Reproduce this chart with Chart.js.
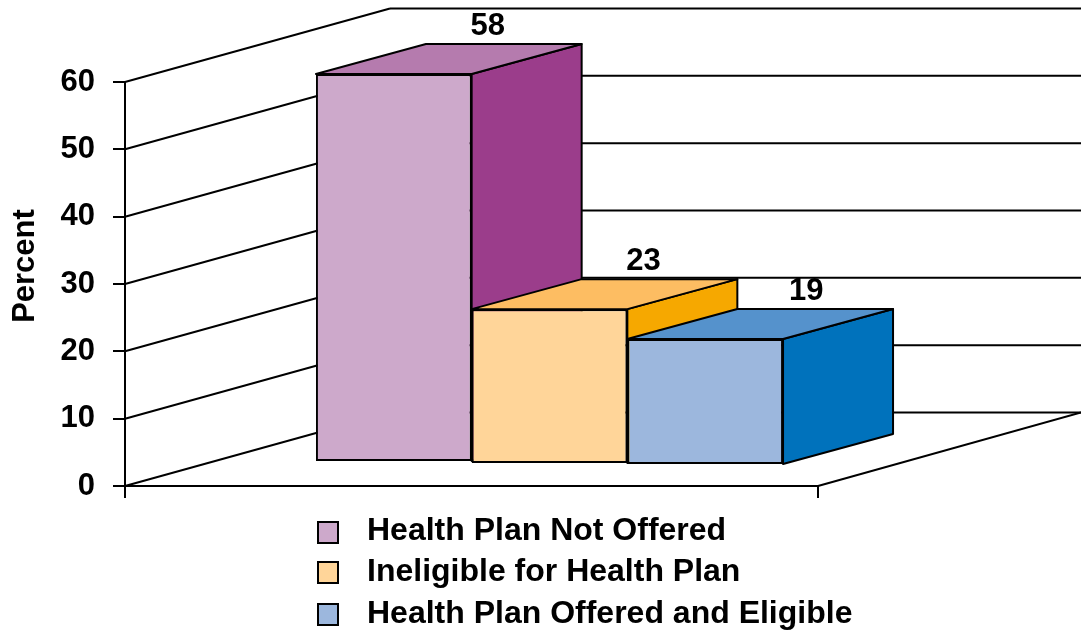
<!DOCTYPE html>
<html>
<head>
<meta charset="utf-8">
<title>Health plan status</title>
<script src="https://cdn.jsdelivr.net/npm/chart.js@4"></script>
<style>
    html, body { margin: 0; padding: 0; background: #fff; }
    canvas { display: block; }
</style>
</head>
<body>
<canvas id="planChart" width="1081" height="631"></canvas>
<script>
const categories = [''];
const seriesNames = ['Health Plan Not Offered', 'Ineligible for Health Plan', 'Health Plan Offered and Eligible'];
const notOffered = [58];
const ineligible = [23];
const offeredEligible = [19];
const yTicks = [0, 10, 20, 30, 40, 50, 60];
const axisTitle = 'Percent';

const frontColors = ['#CDA9CB', '#FFD599', '#9CB7DD'];
const topColors = ['#B57BAE', '#FDBD62', '#5592CC'];
const sideColors = ['#9B3D8B', '#F6A800', '#0072BC'];

const fontName = '"Liberation Sans", Arial, sans-serif';

// depth of the box the axes live in, and of each bar
const wall = { dx: 265, dy: -73.5 };
const barDepth = { dx: 110, dy: -30 };
// bars stand in the middle of the floor
const barShiftX = 78;
const topLift = [21.5, 22, 19];
const baseLift = [24, 22, 21];
const labelNudge = [0, 0, 7];

function strokeLine(ctx, x1, y1, x2, y2) {
    ctx.beginPath();
    ctx.moveTo(x1, y1);
    ctx.lineTo(x2, y2);
    ctx.stroke();
}

function fillFace(ctx, points, color) {
    ctx.beginPath();
    points.forEach(function(p, i) {
        if (i === 0) ctx.moveTo(p[0], p[1]);
        else ctx.lineTo(p[0], p[1]);
    });
    ctx.closePath();
    ctx.fillStyle = color;
    ctx.fill();
    ctx.stroke();
}

// where a bar's front face really ends up once it is moved onto the floor
function frontBox(chart, index) {
    const bar = chart.getDatasetMeta(index).data[0];
    return {
        left: bar.x - bar.width / 2 + barShiftX,
        right: bar.x + bar.width / 2 + barShiftX,
        center: bar.x + barShiftX,
        top: bar.y - topLift[index],
        bottom: bar.base - baseLift[index],
        rawTop: bar.y,
        rawBottom: bar.base
    };
}

function drawBox(chart, i) {
    const ctx = chart.ctx;
    const b = frontBox(chart, i);
    ctx.save();
    ctx.strokeStyle = '#000';
    ctx.lineWidth = 2;
    ctx.lineJoin = 'round';
    fillFace(ctx, [
        [b.right, b.top],
        [b.right + barDepth.dx, b.top + barDepth.dy],
        [b.right + barDepth.dx, b.bottom + barDepth.dy],
        [b.right, b.bottom]
    ], sideColors[i]);
    fillFace(ctx, [
        [b.left, b.top],
        [b.left + barDepth.dx, b.top + barDepth.dy],
        [b.right + barDepth.dx, b.top + barDepth.dy],
        [b.right, b.top]
    ], topColors[i]);
    // push the library's own bar onto the floor plane
    const squeeze = (b.bottom - b.top) / (b.rawBottom - b.rawTop);
    ctx.transform(1, 0, 0, squeeze, barShiftX, b.top - b.rawTop * squeeze);
    chart.getDatasetMeta(i).controller.draw();
    ctx.restore();
}

const box3d = {
    id: 'box3d',
    beforeDatasetsDraw: function(chart) {
        const ctx = chart.ctx;
        const y = chart.scales.y;
        const x = chart.scales.x;
        const backRight = chart.width;
        const zero = y.getPixelForValue(0);
        ctx.save();
        ctx.strokeStyle = '#000';
        ctx.lineWidth = 2;
        yTicks.forEach(function(t) {
            const py = y.getPixelForValue(t);
            strokeLine(ctx, x.left, py, x.left + wall.dx, py + wall.dy);
            strokeLine(ctx, x.left + wall.dx, py + wall.dy, backRight, py + wall.dy);
        });
        strokeLine(ctx, x.left, zero, x.right, zero);
        strokeLine(ctx, x.right, zero, backRight, zero + wall.dy);
        strokeLine(ctx, x.left, zero, x.left, zero + 12);
        strokeLine(ctx, x.right, zero, x.right, zero + 12);
        ctx.restore();
    },
    // Chart.js paints the first dataset last; these boxes need the opposite,
    // so each later box covers the side of the one before
    beforeDatasetDraw: function() {
        return false;
    },
    afterDatasetsDraw: function(chart) {
        chart.data.datasets.forEach(function(ds, i) {
            drawBox(chart, i);
        });
    },
    afterDraw: function(chart) {
        const ctx = chart.ctx;
        ctx.save();
        ctx.fillStyle = '#000';
        ctx.font = 'bold 31px ' + fontName;
        ctx.textAlign = 'center';
        ctx.textBaseline = 'middle';
        chart.data.datasets.forEach(function(ds, i) {
            const b = frontBox(chart, i);
            ctx.fillText(String(ds.data[0]), b.center + 94 + labelNudge[i], b.top - 48);
        });

        // axis title, turned to read upwards
        ctx.save();
        ctx.translate(25, 266);
        ctx.rotate(-Math.PI / 2);
        ctx.fillText(axisTitle, 0, 0);
        ctx.restore();

        // stacked legend under the floor
        const swatchTops = [522, 562, 604];
        const textRows = [531, 572, 614];
        ctx.font = 'bold 32px ' + fontName;
        ctx.textAlign = 'left';
        ctx.lineWidth = 2;
        ctx.strokeStyle = '#000';
        chart.data.datasets.forEach(function(ds, i) {
            ctx.fillStyle = ds.backgroundColor;
            ctx.fillRect(318, swatchTops[i], 20, 21);
            ctx.strokeRect(318, swatchTops[i], 20, 21);
            ctx.fillStyle = '#000';
            ctx.fillText(ds.label, 367, textRows[i]);
        });
        ctx.restore();
    }
};

const seriesValues = [notOffered, ineligible, offeredEligible];

document.addEventListener('DOMContentLoaded', function() {
    const ctx = document.getElementById('planChart').getContext('2d');
    new Chart(ctx, {
        type: 'bar',
        data: {
            labels: categories,
            datasets: seriesNames.map(function(name, i) {
                return {
                    label: name,
                    data: seriesValues[i],
                    backgroundColor: frontColors[i],
                    borderColor: '#000',
                    borderWidth: 2,
                    borderSkipped: false,
                    categoryPercentage: 0.674,
                    barPercentage: 1
                };
            })
        },
        options: {
            responsive: false,
            animation: false,
            layout: { padding: { top: 82, bottom: 145, left: 0, right: 263 } },
            plugins: {
                legend: { display: false },
                tooltip: { enabled: false }
            },
            scales: {
                x: { display: false },
                y: {
                    min: 0,
                    max: 60,
                    afterFit: function(scale) { scale.width = 125; },
                    afterBuildTicks: function(scale) {
                        scale.ticks = yTicks.map(function(v) { return { value: v }; });
                    },
                    border: { display: true, color: '#000', width: 2 },
                    grid: { drawOnChartArea: false, drawTicks: true, tickLength: 12, color: '#000', lineWidth: 2 },
                    ticks: {
                        color: '#000',
                        padding: 18,
                        font: { family: fontName, size: 31, weight: 'bold' }
                    }
                }
            }
        },
        plugins: [box3d]
    });
});
</script>
</body>
</html>
